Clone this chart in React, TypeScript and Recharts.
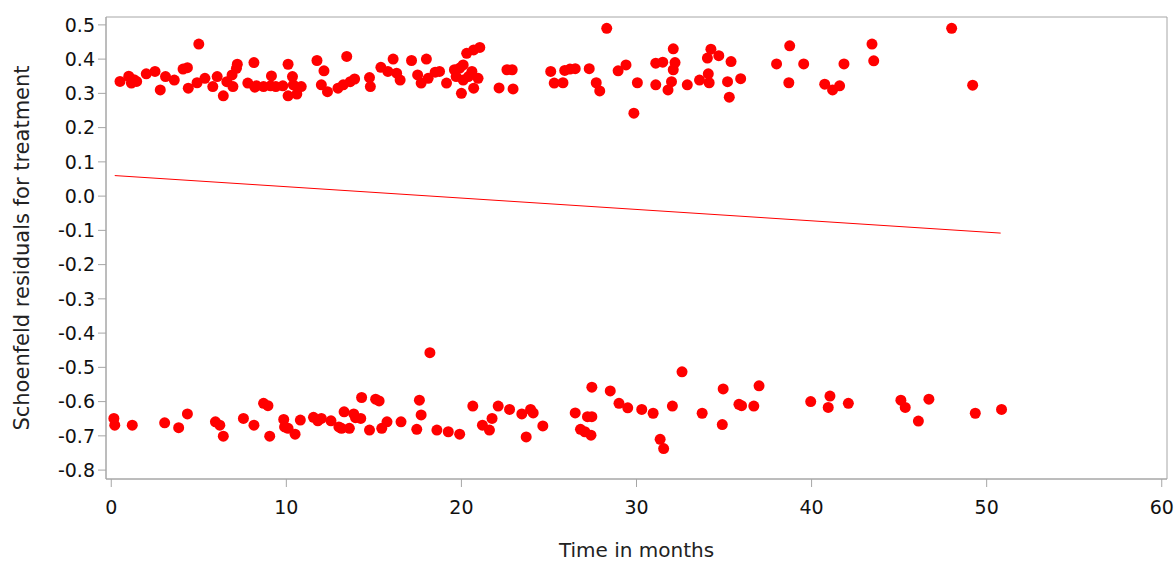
import React from 'react';
import { ScatterChart, Scatter, XAxis, YAxis, ReferenceLine, ReferenceArea, Label } from 'recharts';

// Time in months (x) and Schoenfeld residuals (y) for the upper band of events
const upperTimes = [
  0.5, 1.0, 1.15, 1.3, 1.45, 2.0, 2.5, 2.8, 3.1, 3.6, 4.1, 4.35, 4.4, 4.9, 5.0, 5.35, 5.8, 6.05, 6.4, 6.6,
  6.9, 6.95, 7.15, 7.2, 7.8, 8.15, 8.2, 8.3, 8.7, 9.1, 9.15, 9.4, 9.8, 10.1, 10.1, 10.35, 10.6, 10.85, 10.4,
  11.75, 12.0, 12.15, 12.35, 12.95, 13.45, 13.25, 13.65, 13.9, 14.75, 14.8, 15.4, 15.8, 16.1, 16.3, 16.5,
  17.15, 17.5, 17.7, 18.0, 18.1, 18.5, 18.75, 19.15, 19.6, 19.9, 20.1, 19.7, 20.1, 20.0, 20.4, 20.6, 20.3,
  20.7, 21.05, 20.7, 20.95, 22.15, 22.6, 22.9, 22.95, 25.1, 25.3, 25.8, 25.9, 26.2, 26.5, 27.3, 27.7, 27.9,
  28.3, 28.95, 29.4, 29.85, 30.05, 31.1, 31.5, 32.1, 32.2, 32.1, 31.1, 31.8, 32.0, 32.9, 33.6, 34.1, 34.15,
  34.05, 34.25, 34.7, 35.4, 35.2, 35.3, 35.95, 38.0, 38.75, 38.7, 39.55, 40.75, 41.2, 41.6, 41.85, 43.45,
  43.55, 48.0, 49.2,
];
const upperResiduals = [
  0.335, 0.35, 0.33, 0.34, 0.335, 0.357, 0.364, 0.31, 0.349, 0.339, 0.371, 0.375, 0.315, 0.331, 0.444, 0.344, 0.32, 0.349, 0.293, 0.334,
  0.354, 0.32, 0.373, 0.385, 0.33, 0.39, 0.318, 0.322, 0.32, 0.322, 0.351, 0.32, 0.322, 0.385, 0.293, 0.349, 0.298, 0.32, 0.325,
  0.396, 0.325, 0.366, 0.305, 0.315, 0.408, 0.325, 0.334, 0.342, 0.346, 0.32, 0.376, 0.364, 0.4, 0.359, 0.339,
  0.396, 0.354, 0.33, 0.4, 0.344, 0.362, 0.364, 0.33, 0.369, 0.374, 0.383, 0.349, 0.339, 0.3, 0.349, 0.364, 0.417,
  0.427, 0.434, 0.315, 0.344, 0.316, 0.369, 0.369, 0.313, 0.364, 0.33, 0.331, 0.367, 0.371, 0.372, 0.372, 0.331, 0.307,
  0.49, 0.366, 0.383, 0.242, 0.331, 0.388, 0.391, 0.43, 0.39, 0.369, 0.325, 0.31, 0.334, 0.325, 0.339, 0.357, 0.331,
  0.403, 0.429, 0.41, 0.393, 0.334, 0.289, 0.343, 0.386, 0.439, 0.331, 0.386, 0.327, 0.31, 0.322, 0.386, 0.444,
  0.395, 0.49, 0.324,
];

// Lower band of events
const lowerTimes = [
  0.15, 0.2, 1.2, 3.05, 3.85, 4.35, 5.95, 6.2, 6.4, 7.55, 8.15, 8.7, 8.95, 9.05, 9.85, 9.9, 10.1, 10.5, 10.8,
  11.55, 11.8, 12.0, 12.55, 13.0, 13.15, 13.6, 13.3, 13.85, 13.95, 14.25, 14.3, 14.75, 15.1, 15.3, 15.45, 15.75,
  16.55, 17.45, 17.6, 17.7, 18.2, 18.6, 19.25, 19.9, 20.65, 21.2, 21.6, 21.75, 22.1, 22.75, 23.45, 23.95, 24.1,
  23.7, 24.65, 26.5, 26.8, 27.05, 27.4, 27.2, 27.45, 27.45, 28.5, 29.0, 29.5, 30.3, 30.95, 31.35, 31.55, 32.05,
  32.6, 33.75, 34.95, 34.9, 35.85, 36.0, 36.7, 37.0, 39.95, 41.05, 40.95, 42.1, 45.1, 45.35, 46.1, 46.7, 49.35, 50.85,
];
const lowerResiduals = [
  -0.649, -0.669, -0.669, -0.662, -0.676, -0.636, -0.659, -0.669, -0.701, -0.649, -0.669, -0.605, -0.612, -0.701, -0.652, -0.674, -0.678, -0.695, -0.654,
  -0.646, -0.656, -0.649, -0.656, -0.674, -0.678, -0.678, -0.63, -0.636, -0.647, -0.649, -0.588, -0.683, -0.593, -0.598, -0.678, -0.659,
  -0.659, -0.681, -0.596, -0.639, -0.457, -0.683, -0.688, -0.695, -0.613, -0.669, -0.683, -0.649, -0.613, -0.623, -0.636, -0.623, -0.633,
  -0.703, -0.671, -0.633, -0.681, -0.688, -0.698, -0.644, -0.644, -0.558, -0.569, -0.605, -0.618, -0.623, -0.634, -0.71, -0.737, -0.613,
  -0.513, -0.634, -0.563, -0.667, -0.608, -0.612, -0.613, -0.554, -0.6, -0.584, -0.617, -0.605, -0.596, -0.617, -0.657, -0.593, -0.634, -0.623,
];

// Fitted (smoothed) trend line endpoints
const fitTimes = [0.2, 50.8];
const fitValues = [0.06, -0.108];

const xTicks = [0, 10, 20, 30, 40, 50, 60];
const yTicks = [-0.8, -0.7, -0.6, -0.5, -0.4, -0.3, -0.2, -0.1, 0.0, 0.1, 0.2, 0.3, 0.4, 0.5];
const xDomain = [-0.3, 60.3];
const yDomain = [-0.826, 0.523];

const upperData = upperTimes.map((t, i) => ({ t, r: upperResiduals[i] }));
const lowerData = lowerTimes.map((t, i) => ({ t, r: lowerResiduals[i] }));
const fitSegment = fitTimes.map((t, i) => ({ x: t, y: fitValues[i] }));

const FONT = '"DejaVu Sans", Verdana, sans-serif';
const AXIS_GRAY = '#a6a6a6';

const Dot = (props: any) => {
  const { cx, cy } = props;
  if (cx == null || cy == null) return null;
  return <circle cx={cx} cy={cy} r={5.5} fill="#ff0000" />;
};

export default function App() {
  return (
    <div style={{ position: 'absolute', left: 0, top: 0, width: 1176, height: 561, background: '#fff' }}>
      <ScatterChart width={1176} height={561} margin={{ top: 17, right: 9, left: 0, bottom: 0 }}>
        <XAxis
          type="number"
          dataKey="t"
          domain={xDomain}
          ticks={xTicks}
          allowDataOverflow
          height={82}
          tickSize={8}
          tickMargin={14}
          stroke={AXIS_GRAY}
          tick={{ fill: '#111', fontSize: 19, fontFamily: FONT }}
        >
          <Label value="Time in months" position="insideBottom" offset={4} style={{ fill: '#222', fontSize: 20, fontFamily: FONT }} />
        </XAxis>
        <YAxis
          type="number"
          dataKey="r"
          domain={yDomain}
          ticks={yTicks}
          allowDataOverflow
          width={106}
          tickSize={8}
          tickMargin={3}
          stroke={AXIS_GRAY}
          tickFormatter={(v: number) => v.toFixed(1)}
          tick={{ fill: '#111', fontSize: 19, fontFamily: FONT }}
        >
          <Label
            value="Schoenfeld residuals for treatment"
            angle={-90}
            position="insideLeft"
            offset={22}
            style={{ fill: '#222', fontSize: 21, fontFamily: FONT, textAnchor: 'middle' }}
          />
        </YAxis>
        <ReferenceArea
          x1={xDomain[0]}
          x2={xDomain[1]}
          y1={yDomain[0]}
          y2={yDomain[1]}
          fill="none"
          fillOpacity={0}
          stroke={AXIS_GRAY}
          strokeWidth={1}
          ifOverflow="visible"
        />
        <ReferenceLine segment={fitSegment} stroke="#ff0000" strokeWidth={1} ifOverflow="visible" />
        <Scatter data={upperData} shape={Dot} isAnimationActive={false} />
        <Scatter data={lowerData} shape={Dot} isAnimationActive={false} />
      </ScatterChart>
    </div>
  );
}
